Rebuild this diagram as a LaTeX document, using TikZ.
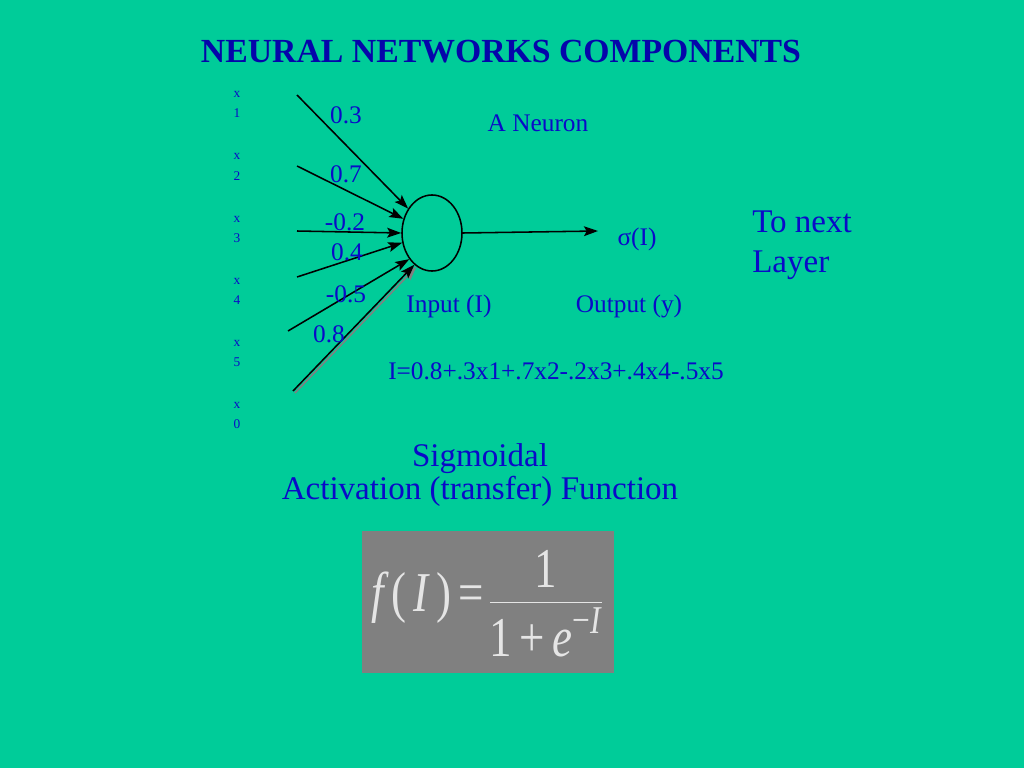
\documentclass[tikz,border=0pt]{standalone}
\usepackage{amsmath}
\usepackage{graphicx}
\usepackage{fontspec}
\setmainfont{Liberation Serif}
\usetikzlibrary{shapes.geometric,arrows.meta}
\definecolor{slidegreen}{RGB}{0,204,153}
\definecolor{slideblue}{RGB}{10,10,200}
\definecolor{titleblue}{RGB}{5,5,170}
\definecolor{formulagray}{RGB}{128,128,128}
\begin{document}
\begin{tikzpicture}[
  x=0.025cm, y=-0.025cm,
  every node/.style={text=slideblue, inner sep=0pt},
  weight/.style={font=\fontsize{18}{20}\selectfont, anchor=base},
  inlabel/.style={font=\fontsize{9.5}{10}\selectfont, anchor=base},
  bigtext/.style={font=\fontsize{23.5}{28}\selectfont, anchor=base},
  neuronshape/.style={draw, line width=1.1pt, ellipse, minimum width=1.5cm, minimum height=1.9cm},
  arrow/.style={-{Stealth[length=10pt, width=7pt, inset=2pt]}, line width=1.1pt},
]

% Slide background fixes the page size.
\fill[slidegreen] (0,0) rectangle (1024,768);
\useasboundingbox (0,0) rectangle (1024,768);

\node[font=\fontsize{24}{28}\selectfont\bfseries, text=titleblue, anchor=base] (title) at (501,63) {NEURAL NETWORKS COMPONENTS};

% Input labels x1 ... x5, x0, written letter above digit.
\foreach \i/\y in {1/98, 2/160, 3/222, 4/284, 5/346, 0/408} {
  \node[inlabel] (xl\i) at (237,\y) {x};
  \node[inlabel] (xn\i) at (237,\y+20) {\i};
}

% The neuron.
\node[neuronshape] (neuron) at (432,233) {};
\node[weight] (aneuron) at (538,132) {A Neuron};

% Free ends of the input connectors.
\coordinate (in1) at (297,95);
\coordinate (in2) at (297,166);
\coordinate (in3) at (297,231);
\coordinate (in4) at (297,277);
\coordinate (in5) at (288,331);
\coordinate (in6) at (293,391);

\draw[arrow] (in1) -- (neuron);
\draw[arrow] (in2) -- (neuron);
\draw[arrow] (in3) -- (neuron.180);
\draw[arrow] (in4) -- (neuron);
\draw[arrow] (in5) -- (neuron.229);
% Bias input, with its grey shadow.
\draw[arrow, gray] ([shift={(2,2)}]in6) -- ([shift={(2,2)}]neuron.241);
\draw[arrow] (in6) -- (neuron.241);

% Weights.
\node[weight] (w1) at (346,124) {0.3};
\node[weight] (w2) at (346,182) {0.7};
\node[weight] (w3) at (345,230) {-0.2};
\node[weight] (w4) at (347,260) {0.4};
\node[weight] (w5) at (346,302) {-0.5};
\node[weight] (w6) at (329,342) {0.8};

% Output side.
\node[weight] (sigma) at (637,245) {σ(I)};
\coordinate (outend) at (598,231);
\draw[arrow] (neuron.east) -- (outend);
\node[bigtext, anchor=base west] (tonext) at (752,232) {To next};
\node[bigtext, anchor=base west] (layer) at (752,272) {Layer};

\node[weight] (input) at (449,312) {Input (I)};
\node[weight] (output) at (629,312) {Output (y)};
\node[weight] (sum) at (556,379) {I=0.8+.3x1+.7x2-.2x3+.4x4-.5x5};

% Activation function.
\node[bigtext] (sigmoidal) at (480,466) {Sigmoidal};
\node[bigtext] (activation) at (480,499) {Activation (transfer) Function};

\node[fill=formulagray, minimum width=6.3cm, minimum height=3.55cm] (formula) at (488,602) {};
\node[text=black!10, font=\fontsize{40}{48}\selectfont] (sigmoid) at (487,604)
  {\scalebox{0.8}[1]{$\displaystyle \text{\itshape f\,\upshape(\,\itshape I\,\upshape)\,=}\,
    \frac{\text{1}}{\text{1\,+\,\itshape e}^{\text{−\itshape I}}}$}};

\end{tikzpicture}
\end{document}
